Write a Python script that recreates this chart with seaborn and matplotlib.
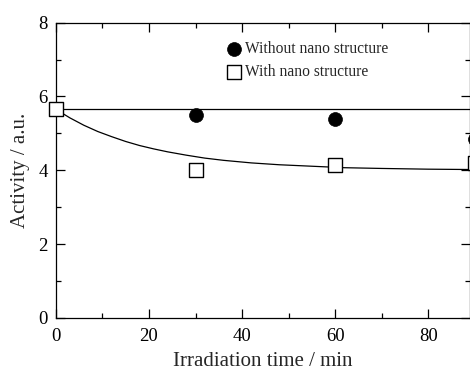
import numpy as np
import pandas as pd
import matplotlib
matplotlib.use("Agg")
import matplotlib.pyplot as plt
import seaborn as sns
from matplotlib.ticker import MultipleLocator

# measured points
time_without = [0, 30, 60, 90]
act_without = [5.65, 5.5, 5.4, 4.85]
time_with = [0, 30, 60, 90]
act_with = [5.65, 4.0, 4.15, 4.2]

# fitted curves
level_without = 5.65
curve_t = [0, 3, 6, 9, 12, 15, 18, 21, 24, 28, 32, 36, 42, 48, 55, 62, 70, 80, 90]
curve_y = [5.65, 5.42, 5.22, 5.05, 4.91, 4.78, 4.67, 4.58, 4.50, 4.41, 4.33,
           4.27, 4.20, 4.15, 4.11, 4.07, 4.05, 4.03, 4.02]

sns.set_theme(style="ticks")
plt.rcParams["font.family"] = ["Liberation Serif", "DejaVu Serif"]

fig = plt.figure(figsize=(4.7, 3.71), dpi=100)
ax = fig.add_axes([0.119, 0.143, 0.881, 0.796])

df_w = pd.DataFrame({"t": time_without, "a": act_without})
df_n = pd.DataFrame({"t": time_with, "a": act_with})
df_c = pd.DataFrame({"t": curve_t, "a": curve_y})

ax.axhline(level_without, color="black", lw=0.9, zorder=2)
sns.lineplot(data=df_c, x="t", y="a", ax=ax, color="black", lw=0.9, zorder=2)

sns.scatterplot(data=df_w, x="t", y="a", ax=ax, marker="o", s=100,
                color="black", edgecolor="black", linewidth=0.5,
                label="Without nano structure", zorder=3, clip_on=False)
sns.scatterplot(data=df_n, x="t", y="a", ax=ax, marker="s", s=90,
                facecolor="white", edgecolor="black", linewidth=1.0,
                label="With nano structure", zorder=4, clip_on=False)

ax.set_xlim(0, 89)
ax.set_ylim(0, 8)
ax.xaxis.set_major_locator(MultipleLocator(20))
ax.xaxis.set_minor_locator(MultipleLocator(10))
ax.yaxis.set_major_locator(MultipleLocator(2))
ax.yaxis.set_minor_locator(MultipleLocator(1))
ax.tick_params(which="both", direction="in", top=True, right=True,
               labelsize=13.5, width=0.9, colors="black")
ax.tick_params(which="major", length=6.5)
ax.tick_params(axis="x", pad=7)
ax.tick_params(axis="y", pad=6)
ax.tick_params(which="minor", length=3.5)
for s in ax.spines.values():
    s.set_linewidth(0.9)
    s.set_color("black")

ax.set_xlabel("Irradiation time / min", fontsize=15, labelpad=5)
ax.set_ylabel("Activity / a.u.", fontsize=15, labelpad=6)

leg = ax.legend(loc="upper left", bbox_to_anchor=(0.382, 0.975), frameon=False,
                fontsize=11.2, handletextpad=0.1, labelspacing=0.45,
                borderpad=0.2, handlelength=1.2)

fig.savefig("out.png", dpi=100)
